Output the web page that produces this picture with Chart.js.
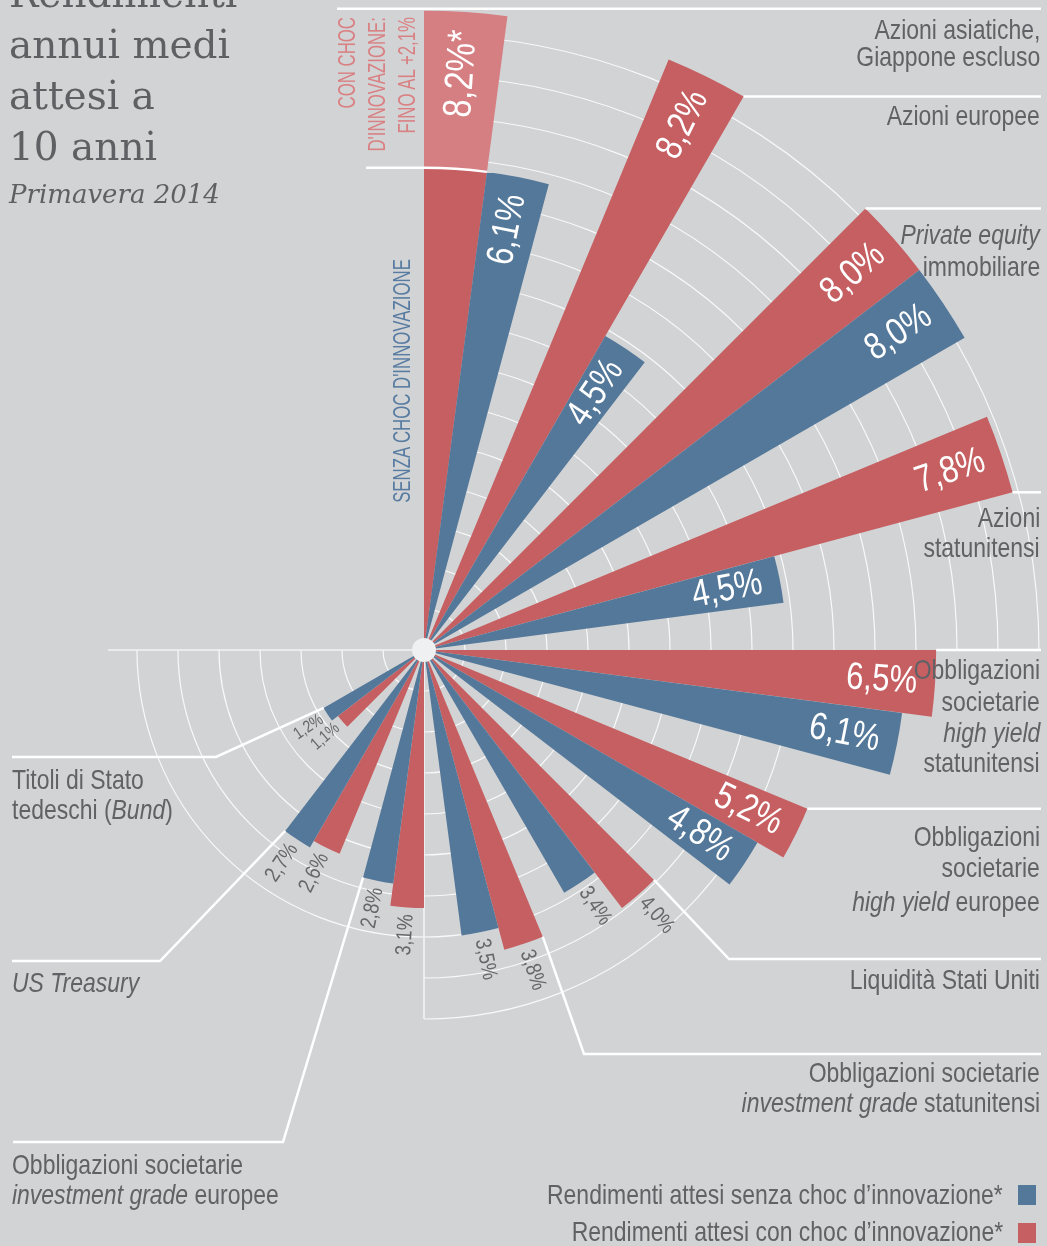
<!DOCTYPE html>
<html lang="it">
<head>
<meta charset="utf-8">
<title>Rendimenti annui medi attesi a 10 anni</title>
<script src="https://cdn.jsdelivr.net/npm/chart.js@4.4.1/dist/chart.umd.min.js"></script>
<style>
  html, body { margin: 0; padding: 0; background: #d2d3d5; }
  #wrap { position: relative; width: 1047px; height: 1246px; overflow: hidden; background: #d2d3d5; }
  #chart { position: absolute; left: 0; top: 0; }
  .t { position: absolute; font-family: "Liberation Sans", Arial, sans-serif; font-size: 28px; line-height: 28px; color: #606265; white-space: nowrap; transform: scaleX(0.82); }
  .r { right: 7px; text-align: right; transform-origin: right center; }
  .l { left: 12px; transform-origin: left center; }
  .titolo { position: absolute; left: 9px; top: -32px; font-family: "DejaVu Serif", serif; font-size: 39px; line-height: 51px; color: #5e6063; white-space: nowrap; }
  .sotto { position: absolute; left: 9px; top: 181px; font-family: "DejaVu Serif", serif; font-style: italic; font-size: 26px; line-height: 26px; color: #5e6063; white-space: nowrap; }
  .vert { position: absolute; font-family: "Liberation Sans", Arial, sans-serif; font-size: 24px; white-space: nowrap; transform: rotate(-90deg) scaleX(0.7); transform-origin: center center; }
  .quad { position: absolute; width: 18px; height: 20px; }
</style>
</head>
<body>
<div id="wrap">
  <canvas id="chart" width="1047" height="1246"></canvas>

  <div class="titolo">Rendimenti<br>annui medi<br>attesi a<br>10 anni</div>
  <div class="sotto">Primavera 2014</div>

  <div class="vert" style="left:257px; top:56px; width:240px; height:90px; line-height:30px; text-align:right; color:#d98083;">CON CHOC<br>D'INNOVAZIONE:<br>FINO AL +2,1%</div>
  <div class="vert" style="left:202px; top:369px; width:400px; height:24px; line-height:24px; text-align:center; color:#587ca1;">SENZA CHOC D'INNOVAZIONE</div>

  <div class="t r" style="top:16px">Azioni asiatiche,</div>
  <div class="t r" style="top:43px">Giappone escluso</div>
  <div class="t r" style="top:102px">Azioni europee</div>
  <div class="t r" style="top:221px"><i>Private equity</i></div>
  <div class="t r" style="top:253px">immobiliare</div>
  <div class="t r" style="top:504px">Azioni</div>
  <div class="t r" style="top:534px">statunitensi</div>
  <div class="t r" style="top:656px">Obbligazioni</div>
  <div class="t r" style="top:688px">societarie</div>
  <div class="t r" style="top:719px"><i>high yield</i></div>
  <div class="t r" style="top:749px">statunitensi</div>
  <div class="t r" style="top:823px">Obbligazioni</div>
  <div class="t r" style="top:854px">societarie</div>
  <div class="t r" style="top:888px"><i>high yield</i> europee</div>
  <div class="t r" style="top:966px">Liquidità Stati Uniti</div>
  <div class="t r" style="top:1059px">Obbligazioni societarie</div>
  <div class="t r" style="top:1089px"><i>investment grade</i> statunitensi</div>

  <div class="t l" style="top:766px">Titoli di Stato</div>
  <div class="t l" style="top:796px">tedeschi (<i>Bund</i>)</div>
  <div class="t l" style="top:969px"><i>US Treasury</i></div>
  <div class="t l" style="top:1151px">Obbligazioni societarie</div>
  <div class="t l" style="top:1181px"><i>investment grade</i> europee</div>

  <div class="t r" style="top:1181px; right:44px;">Rendimenti attesi senza choc d’innovazione*</div>
  <div class="t r" style="top:1218px; right:44px;">Rendimenti attesi con choc d’innovazione*</div>
  <div class="quad" style="left:1018px; top:1185px; background:#547899;"></div>
  <div class="quad" style="left:1018px; top:1223px; background:#c65f61;"></div>
</div>

<script>
// dati: rendimenti annui medi attesi a 10 anni (%)
const categorie = [
    'Azioni asiatiche, Giappone escluso',
    'Azioni europee',
    'Private equity immobiliare',
    'Azioni statunitensi',
    'Obbligazioni societarie high yield statunitensi',
    'Obbligazioni societarie high yield europee',
    'Liquidità Stati Uniti',
    'Obbligazioni societarie investment grade statunitensi',
    'Obbligazioni societarie investment grade europee',
    'US Treasury',
    'Titoli di Stato tedeschi (Bund)'
];
const conChoc   = [8.2, 8.2, 8.0, 7.8, 6.5, 5.2, 4.0, 3.8, 3.1, 2.6, 1.1];
const senzaChoc = [6.1, 4.5, 8.0, 4.5, 6.1, 4.8, 3.4, 3.5, 2.8, 2.7, 1.2];
const chocExtra = [2.1, 0, 0, 0, 0, 0, 0, 0, 0, 0, 0]; // parte "fino al +2,1%"

const ROSSO = '#c65f61';
const BLU = '#547899';
const ROSA = '#d67f82';
const VUOTO = 'rgba(0,0,0,0)';
const PASSO = 41; // distanza tra i cerchi della griglia
const FONT = '"Liberation Sans", Arial, sans-serif';

// ogni categoria: spicchio rosso, spicchio blu, poi uno spazio vuoto
const etichettePolari = [];
const valori = [];
const colori = [];
const valoriExtra = [];
const coloriExtra = [];
const testi = [];
categorie.forEach((cat, i) => {
    etichettePolari.push(cat + ' (con choc)');
    valori.push(conChoc[i] - chocExtra[i]);
    colori.push(ROSSO);
    valoriExtra.push(chocExtra[i] > 0 ? conChoc[i] : 0);
    coloriExtra.push(chocExtra[i] > 0 ? ROSA : VUOTO);
    testi.push({ v: conChoc[i], stella: chocExtra[i] > 0 });

    etichettePolari.push(cat + ' (senza choc)');
    valori.push(senzaChoc[i]);
    colori.push(BLU);
    valoriExtra.push(0);
    coloriExtra.push(VUOTO);
    testi.push({ v: senzaChoc[i], stella: false });

    if (i < categorie.length - 1) {
        etichettePolari.push('');
        valori.push(0);
        colori.push(VUOTO);
        valoriExtra.push(0);
        coloriExtra.push(VUOTO);
        testi.push(null);
    }
});

// linee di richiamo verso le etichette
const guide = [
    null,
    { el: 0, lato: 'fine', fineX: 1041 },
    { el: 0, lato: 'inizio', fineX: 1041 },
    { el: 0, lato: 'fine', fineX: 1041 },
    { el: 0, lato: 'inizio', fineX: 1041 },
    { el: 0, lato: 'inizio', fineX: 1041 },
    { el: 0, lato: 'inizio', gomito: [729, 959], fineX: 1041 },
    { el: 0, lato: 'inizio', gomito: [584, 1054], fineX: 1041 },
    { el: 1, lato: 'fine', gomito: [283, 1142], fineX: 13 },
    { el: 1, lato: 'fine', gomito: [160, 961], fineX: 12 },
    { el: 1, lato: 'fine', gomito: [216, 757], fineX: 12 }
];

function formatta(v) {
    return v.toFixed(1).replace('.', ',') + '%';
}

const gr = Math.PI / 180;

const decorazioni = {
    id: 'decorazioni',
    beforeDatasetsDraw(chart) {
        const s = chart.scales.r;
        const ctx = chart.ctx;
        const cx = s.xCenter, cy = s.yCenter;
        ctx.save();
        ctx.strokeStyle = 'rgba(255,255,255,0.85)';
        ctx.lineWidth = 1.2;
        [[-90, 0, 15], [0, 90, 9], [90, 180, 7]].forEach(([a0, a1, n]) => {
            for (let k = 1; k <= n; k++) {
                ctx.beginPath();
                ctx.arc(cx, cy, k * PASSO, a0 * gr, a1 * gr);
                ctx.stroke();
            }
        });
        ctx.lineWidth = 1.6;
        ctx.strokeStyle = '#f4f4f5';
        ctx.beginPath();
        ctx.moveTo(cx, cy);
        ctx.lineTo(cx, cy + 9 * PASSO);
        ctx.moveTo(cx, cy);
        ctx.lineTo(cx - 316, cy);
        ctx.stroke();
        ctx.restore();
    },
    afterDatasetsDraw(chart) {
        const s = chart.scales.r;
        const ctx = chart.ctx;
        const cx = s.xCenter, cy = s.yCenter;
        const meta = chart.getDatasetMeta(0);

        ctx.save();
        ctx.strokeStyle = '#ffffff';
        ctx.lineWidth = 2.5;

        // parentesi dello choc d'innovazione (azioni asiatiche)
        const rTop = s.getDistanceFromCenterForValue(conChoc[0]);
        const rBase = s.getDistanceFromCenterForValue(conChoc[0] - chocExtra[0]);
        const primo = meta.data[0];
        ctx.beginPath();
        ctx.moveTo(337, cy - rTop - 2);
        ctx.lineTo(1041, cy - rTop - 2);
        ctx.stroke();
        ctx.beginPath();
        ctx.moveTo(366, cy - rBase);
        ctx.lineTo(cx, cy - rBase);
        ctx.arc(cx, cy, rBase, primo.startAngle, primo.endAngle);
        ctx.stroke();

        guide.forEach((g, i) => {
            if (!g) return;
            const el = meta.data[i * 3 + g.el];
            const a = g.lato === 'inizio' ? el.startAngle : el.endAngle;
            const r = el.outerRadius;
            const px = cx + r * Math.cos(a), py = cy + r * Math.sin(a);
            ctx.beginPath();
            ctx.moveTo(px, py);
            if (g.gomito) {
                ctx.lineTo(g.gomito[0], g.gomito[1]);
                ctx.lineTo(g.fineX, g.gomito[1]);
            } else {
                ctx.lineTo(g.fineX, py);
            }
            ctx.stroke();
        });

        // cerchio centrale
        ctx.fillStyle = '#eff0f2';
        ctx.beginPath();
        ctx.arc(cx, cy, 12, 0, Math.PI * 2);
        ctx.fill();

        // valori
        ctx.textBaseline = 'middle';
        meta.data.forEach((el, j) => {
            const t = testi[j];
            if (!t) return;
            const mid = (el.startAngle + el.endAngle) / 2;
            const r = s.getDistanceFromCenterForValue(t.v);
            const testo = formatta(t.v) + (t.stella ? '*' : '');
            ctx.save();
            if (t.v >= 4.5) {
                ctx.translate(cx + (r - 18) * Math.cos(mid), cy + (r - 18) * Math.sin(mid));
                ctx.rotate(mid);
                ctx.textAlign = 'right';
                ctx.fillStyle = '#ffffff';
                ctx.font = (t.stella ? 40 : 38) + 'px ' + FONT;
            } else {
                ctx.translate(cx + (r + 7) * Math.cos(mid), cy + (r + 7) * Math.sin(mid));
                if (mid > Math.PI / 2) {
                    ctx.rotate(mid + Math.PI);
                    ctx.textAlign = 'right';
                } else {
                    ctx.rotate(mid);
                    ctx.textAlign = 'left';
                }
                ctx.fillStyle = '#65676a';
                ctx.font = (t.v < 2 ? 17 : 22) + 'px ' + FONT;
            }
            ctx.scale(0.82, 1);
            ctx.fillText(testo, 0, 0);
            ctx.restore();
        });
        ctx.restore();
    }
};

const ctx = document.getElementById('chart').getContext('2d');
const grafico = new Chart(ctx, {
    type: 'polarArea',
    data: {
        labels: etichettePolari,
        datasets: [
            {
                label: 'Rendimenti attesi',
                data: valori,
                backgroundColor: colori,
                borderWidth: 0,
                angle: 7.5,
                clip: false
            },
            {
                label: "Choc d'innovazione",
                data: valoriExtra,
                backgroundColor: coloriExtra,
                borderWidth: 0,
                angle: 7.5,
                clip: false
            }
        ]
    },
    options: {
        responsive: false,
        animation: false,
        layout: { padding: { left: 24, right: 223, top: 250, bottom: 196 } },
        plugins: {
            legend: { display: false },
            tooltip: { enabled: false }
        },
        scales: {
            r: {
                display: false,
                min: -0.35,
                max: 5.0,
                bounds: 'data',
                startAngle: 0,
                grid: { display: false },
                angleLines: { display: false },
                ticks: { display: false },
                pointLabels: { display: false }
            }
        }
    },
    plugins: [decorazioni]
});
</script>
</body>
</html>
